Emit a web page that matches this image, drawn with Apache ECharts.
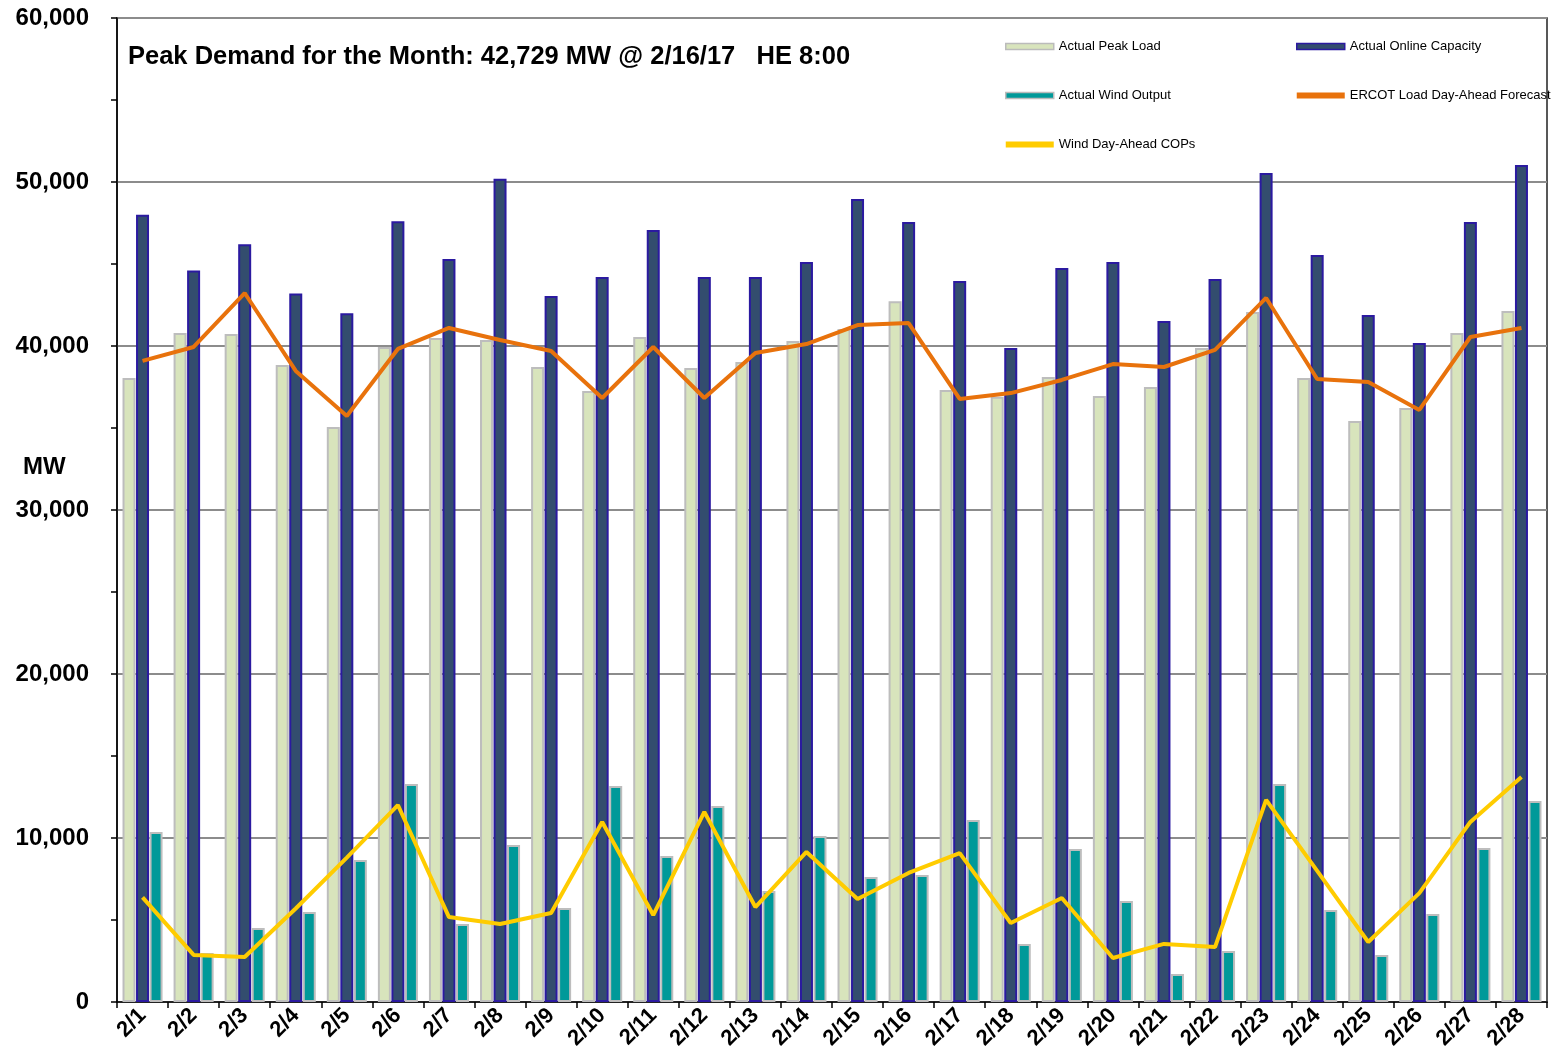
<!DOCTYPE html>
<html>
<head>
<meta charset="utf-8">
<title>Peak Demand</title>
<script src="https://cdn.jsdelivr.net/npm/echarts@6/dist/echarts.min.js"></script>
<style>
  html, body { margin: 0; padding: 0; background: #fff; }
  #main { width: 1553px; height: 1058px; }
</style>
</head>
<body>
<div id="main"></div>
<script>
// 数据
var days = ['2/1','2/2','2/3','2/4','2/5','2/6','2/7','2/8','2/9','2/10','2/11','2/12','2/13','2/14',
            '2/15','2/16','2/17','2/18','2/19','2/20','2/21','2/22','2/23','2/24','2/25','2/26','2/27','2/28'];
var peakLoad = [38050,40790,40730,38840,35060,39940,40490,40370,38720,37260,40550,38660,39020,40300,
                41040,42729,37320,36900,38110,36950,37500,39880,42070,38050,35430,36220,40790,42130];
var onlineCapacity = [48000,44600,46200,43200,42000,47600,45300,50200,43050,44200,47070,44200,44200,45120,
                      48960,47560,43960,39880,44760,45120,41520,44090,50550,45550,41890,40180,47560,51040];
var windOutput = [10370,2990,4510,5490,8660,13290,4760,9570,5730,13170,8900,11950,6770,10120,
                  7620,7740,11100,3540,9330,6160,1710,3110,13290,5610,2870,5370,9390,12260];
var loadForecast = [39090,39940,43230,38480,35730,39820,41100,40370,39700,36830,39940,36830,39570,40120,
                    41280,41400,36770,37130,37930,38900,38720,39760,42930,37990,37800,36100,40550,41100];
var windCOP = [6380,2870,2740,5700,8800,12010,5180,4760,5430,10980,5300,11590,5790,9150,
               6280,7870,9080,4820,6340,2680,3540,3350,12320,8000,3660,6640,10980,13720];
var yTicks = [0, 60000];

var font = '"Liberation Sans", Arial, sans-serif';
var myChart = echarts.init(document.getElementById('main'));

var legendText = { fontFamily: font, fontSize: 13, color: '#000' };
var option = {
    animation: false,
    backgroundColor: '#fff',
    textStyle: { fontFamily: font },
    grid: {
        left: 117, right: 6, top: 18, bottom: 56,
        show: true, borderColor: '#222', borderWidth: 1.5
    },
    graphic: [
        {
            type: 'text', left: 128, top: 44,
            style: { text: 'Peak Demand for the Month: 42,729 MW @ 2/16/17   HE 8:00',
                     fontFamily: font, fontSize: 25.5, fontWeight: 'bold', fill: '#000' }
        },
        {
            type: 'text', left: 23, top: 455,
            style: { text: 'MW', fontFamily: font, fontSize: 24, fontWeight: 'bold', fill: '#000' }
        }
    ],
    legend: [
        {
            left: 1000, top: 35, orient: 'vertical', itemGap: 36,
            itemWidth: 48, itemHeight: 6,
            textStyle: legendText,
            data: [
                { name: 'Actual Peak Load', icon: 'rect', itemStyle: { color: '#d8e4bc', borderColor: '#bbb', borderWidth: 1.5 } },
                { name: 'Actual Wind Output', icon: 'rect', itemStyle: { color: '#009999', borderColor: '#bbb', borderWidth: 1.5 } },
                { name: 'Wind Day-Ahead COPs', icon: 'rect', itemStyle: { color: '#ffcc00', borderWidth: 0 } }
            ]
        },
        {
            left: 1291, top: 35, orient: 'vertical', itemGap: 36,
            itemWidth: 48, itemHeight: 6,
            textStyle: legendText,
            data: [
                { name: 'Actual Online Capacity', icon: 'rect', itemStyle: { color: '#334d6e', borderColor: '#2b1aa0', borderWidth: 1.5 } },
                { name: 'ERCOT Load Day-Ahead Forecast', icon: 'rect', itemStyle: { color: '#e8720c', borderWidth: 0 } }
            ]
        }
    ],
    xAxis: {
        type: 'category',
        data: days,
        boundaryGap: true,
        axisLine: { lineStyle: { color: '#000', width: 1.5 } },
        axisTick: { show: true, length: 6, lineStyle: { color: '#000', width: 1.5 } },
        axisLabel: {
            rotate: 45, interval: 0, margin: 10,
            fontFamily: font, fontSize: 22, fontWeight: 'bold', color: '#000'
        },
        splitLine: { show: false }
    },
    yAxis: {
        type: 'value',
        min: yTicks[0], max: yTicks[1], interval: 10000,
        axisLine: { show: true, lineStyle: { color: '#000', width: 1.5 } },
        axisTick: { show: true, length: 6, lineStyle: { color: '#000', width: 1.5 } },
        minorTick: { show: true, splitNumber: 2, length: 6, lineStyle: { color: '#000', width: 1.5 } },
        axisLabel: {
            margin: 28,
            fontFamily: font, fontSize: 24, fontWeight: 'bold', color: '#000',
            formatter: function (v) { return v.toLocaleString('en-US'); }
        },
        splitLine: { show: true, lineStyle: { color: '#8c8c8c', width: 2 } }
    },
    series: [
        {
            name: 'Actual Peak Load',
            type: 'bar',
            data: peakLoad,
            barWidth: 13,
            barGap: '4%',
            itemStyle: { color: '#d8e4bc', borderColor: '#bdbdbd', borderWidth: 2 }
        },
        {
            name: 'Actual Online Capacity',
            type: 'bar',
            data: onlineCapacity,
            barWidth: 13,
            barGap: '4%',
            itemStyle: { color: '#334d6e', borderColor: '#2b1aa0', borderWidth: 2 }
        },
        {
            name: 'Actual Wind Output',
            type: 'bar',
            data: windOutput,
            barWidth: 13,
            barGap: '4%',
            itemStyle: { color: '#009999', borderColor: '#bdbdbd', borderWidth: 2 }
        },
        {
            name: 'ERCOT Load Day-Ahead Forecast',
            type: 'line',
            data: loadForecast,
            symbol: 'none',
            z: 5,
            lineStyle: { color: '#e8720c', width: 4 },
            itemStyle: { color: '#e8720c' }
        },
        {
            name: 'Wind Day-Ahead COPs',
            type: 'line',
            data: windCOP,
            symbol: 'none',
            z: 5,
            lineStyle: { color: '#ffcc00', width: 4 },
            itemStyle: { color: '#ffcc00' }
        }
    ]
};
// 显示图表
myChart.setOption(option);
</script>
</body>
</html>
